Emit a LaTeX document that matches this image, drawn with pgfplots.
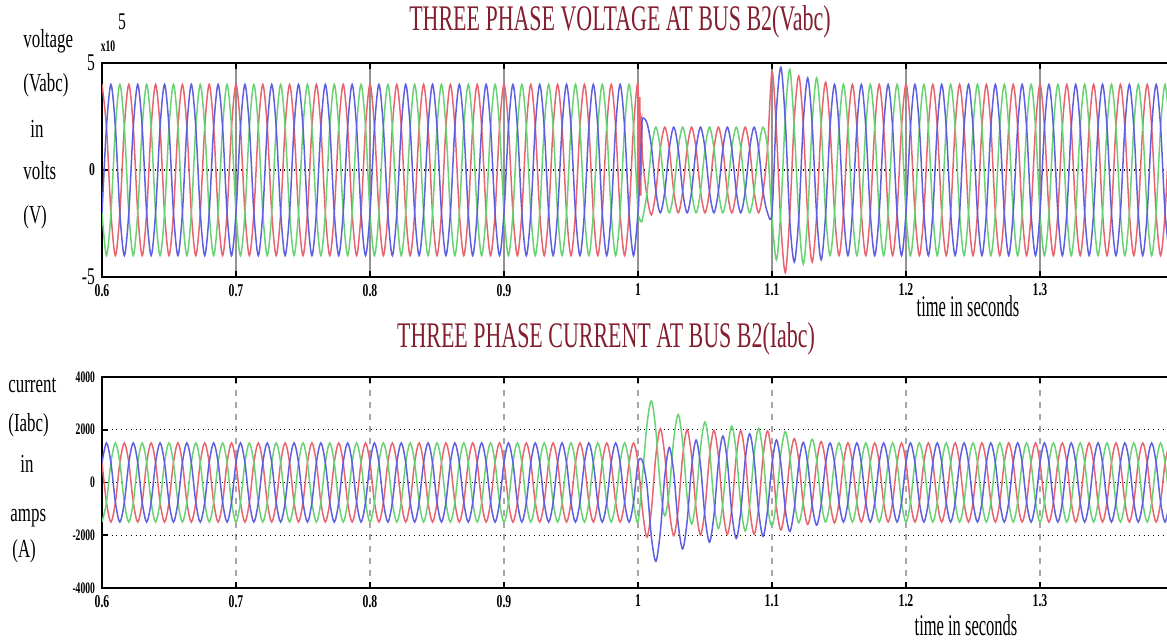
\documentclass[border=0pt]{standalone}
\usepackage{fontspec}
\setmainfont{Liberation Serif}
\usepackage{pgfplots}
\usepackage{pgfplotstable}
\pgfplotsset{compat=1.18}
\definecolor{pa}{RGB}{232,100,110}
\definecolor{pb}{RGB}{95,95,225}
\definecolor{pc}{RGB}{105,210,115}
\definecolor{ttl}{RGB}{130,30,45}
\newcommand\tk[1]{\scalebox{0.65}[1]{\fontsize{9}{9}\selectfont\bfseries #1}}
\newcommand\tks[1]{\scalebox{0.6}[1]{\fontsize{8}{8}\selectfont\bfseries #1}}
\newcommand\tkb[1]{\scalebox{0.65}[1]{\fontsize{12}{12}\selectfont #1}}
\newcommand\yl[1]{\scalebox{0.65}[1]{\fontsize{13}{13}\selectfont #1}}
% k = sample index, 300 samples per second, k=0 -> t=0.6 s
% voltage in 10^5 V : a (red), b (blue), c (green)
\pgfplotstableread[row sep=\\]{
k a b c\\
0 4 -2 -2\\ 1 2 2 -4\\ 2 -2 4 -2\\ 3 -4 2 2\\ 4 -2 -2 4\\ 5 2 -4 2\\
6 4 -2 -2\\ 7 2 2 -4\\ 8 -2 4 -2\\ 9 -4 2 2\\ 10 -2 -2 4\\ 11 2 -4 2\\
12 4 -2 -2\\ 13 2 2 -4\\ 14 -2 4 -2\\ 15 -4 2 2\\ 16 -2 -2 4\\ 17 2 -4 2\\
18 4 -2 -2\\ 19 2 2 -4\\ 20 -2 4 -2\\ 21 -4 2 2\\ 22 -2 -2 4\\ 23 2 -4 2\\
24 4 -2 -2\\ 25 2 2 -4\\ 26 -2 4 -2\\ 27 -4 2 2\\ 28 -2 -2 4\\ 29 2 -4 2\\
30 4 -2 -2\\ 31 2 2 -4\\ 32 -2 4 -2\\ 33 -4 2 2\\ 34 -2 -2 4\\ 35 2 -4 2\\
36 4 -2 -2\\ 37 2 2 -4\\ 38 -2 4 -2\\ 39 -4 2 2\\ 40 -2 -2 4\\ 41 2 -4 2\\
42 4 -2 -2\\ 43 2 2 -4\\ 44 -2 4 -2\\ 45 -4 2 2\\ 46 -2 -2 4\\ 47 2 -4 2\\
48 4 -2 -2\\ 49 2 2 -4\\ 50 -2 4 -2\\ 51 -4 2 2\\ 52 -2 -2 4\\ 53 2 -4 2\\
54 4 -2 -2\\ 55 2 2 -4\\ 56 -2 4 -2\\ 57 -4 2 2\\ 58 -2 -2 4\\ 59 2 -4 2\\
60 4 -2 -2\\ 61 2 2 -4\\ 62 -2 4 -2\\ 63 -4 2 2\\ 64 -2 -2 4\\ 65 2 -4 2\\
66 4 -2 -2\\ 67 2 2 -4\\ 68 -2 4 -2\\ 69 -4 2 2\\ 70 -2 -2 4\\ 71 2 -4 2\\
72 4 -2 -2\\ 73 2 2 -4\\ 74 -2 4 -2\\ 75 -4 2 2\\ 76 -2 -2 4\\ 77 2 -4 2\\
78 4 -2 -2\\ 79 2 2 -4\\ 80 -2 4 -2\\ 81 -4 2 2\\ 82 -2 -2 4\\ 83 2 -4 2\\
84 4 -2 -2\\ 85 2 2 -4\\ 86 -2 4 -2\\ 87 -4 2 2\\ 88 -2 -2 4\\ 89 2 -4 2\\
90 4 -2 -2\\ 91 2 2 -4\\ 92 -2 4 -2\\ 93 -4 2 2\\ 94 -2 -2 4\\ 95 2 -4 2\\
96 4 -2 -2\\ 97 2 2 -4\\ 98 -2 4 -2\\ 99 -4 2 2\\ 100 -2 -2 4\\ 101 2 -4 2\\
102 4 -2 -2\\ 103 2 2 -4\\ 104 -2 4 -2\\ 105 -4 2 2\\ 106 -2 -2 4\\ 107 2 -4 2\\
108 4 -2 -2\\ 109 2 2 -4\\ 110 -2 4 -2\\ 111 -4 2 2\\ 112 -2 -2 4\\ 113 2 -4 2\\
114 4 -2 -2\\ 115 2 2 -4\\ 116 -2 4 -2\\ 117 -4 2 2\\ 118 -2 -2 4\\ 119 2 -4 2\\
120 4 -2 -2\\ 120.2 -0.8 -1.3 -2.2\\ 120.4 3.4 -0.4 -2.3\\ 120.6 -1.2 0.6 -2.4\\ 120.8 2.4 1.6 -2.4\\
121 0.6 2.4 -2.3\\ 122 -1.2 2.2 -1.1\\ 123 -2.1 1.1 1\\ 124 -1 -1 2\\ 125 1 -2 1\\
126 2 -1 -1\\ 127 1 1 -2\\ 128 -1 2 -1\\ 129 -2 1 1\\ 130 -1 -1 2\\ 131 1 -2 1\\
132 2 -1 -1\\ 133 1 1 -2\\ 134 -1 2 -1\\ 135 -2 1 1\\ 136 -1 -1 2\\ 137 1 -2 1\\
138 2 -1 -1\\ 139 1 1 -2\\ 140 -1 2 -1\\ 141 -2 1 1\\ 142 -1 -1 2\\ 143 1 -2 1\\
144 2 -1 -1\\ 145 1 1 -2\\ 146 -1 2 -1\\ 147 -2 1 1\\ 148 -1 -1 2\\ 149 1 -2 1\\
150 4.6 -2 -2.2\\ 151 1.8 2.8 -4.2\\ 152 -2.6 4.8 -1.8\\ 153 -4.8 2.2 2.6\\ 154 -2 -2.4 4.7\\ 155 2.4 -4.3 1.9\\
156 4.4 -2.2 -2.2\\ 157 2.1 2.2 -4.4\\ 158 -2.2 4.3 -2.1\\ 159 -4.3 2.1 2.2\\ 160 -2.1 -2.1 4.3\\ 161 2.1 -4.2 2.1\\
162 4.1 -2.1 -2\\ 163 2 2 -4\\ 164 -2 4 -2\\ 165 -4 2 2\\ 166 -2 -2 4\\ 167 2 -4 2\\
168 4 -2 -2\\ 169 2 2 -4\\ 170 -2 4 -2\\ 171 -4 2 2\\ 172 -2 -2 4\\ 173 2 -4 2\\
174 4 -2 -2\\ 175 2 2 -4\\ 176 -2 4 -2\\ 177 -4 2 2\\ 178 -2 -2 4\\ 179 2 -4 2\\
180 4 -2 -2\\ 181 2 2 -4\\ 182 -2 4 -2\\ 183 -4 2 2\\ 184 -2 -2 4\\ 185 2 -4 2\\
186 4 -2 -2\\ 187 2 2 -4\\ 188 -2 4 -2\\ 189 -4 2 2\\ 190 -2 -2 4\\ 191 2 -4 2\\
192 4 -2 -2\\ 193 2 2 -4\\ 194 -2 4 -2\\ 195 -4 2 2\\ 196 -2 -2 4\\ 197 2 -4 2\\
198 4 -2 -2\\ 199 2 2 -4\\ 200 -2 4 -2\\ 201 -4 2 2\\ 202 -2 -2 4\\ 203 2 -4 2\\
204 4 -2 -2\\ 205 2 2 -4\\ 206 -2 4 -2\\ 207 -4 2 2\\ 208 -2 -2 4\\ 209 2 -4 2\\
210 4 -2 -2\\ 211 2 2 -4\\ 212 -2 4 -2\\ 213 -4 2 2\\ 214 -2 -2 4\\ 215 2 -4 2\\
216 4 -2 -2\\ 217 2 2 -4\\ 218 -2 4 -2\\ 219 -4 2 2\\ 220 -2 -2 4\\ 221 2 -4 2\\
222 4 -2 -2\\ 223 2 2 -4\\ 224 -2 4 -2\\ 225 -4 2 2\\ 226 -2 -2 4\\ 227 2 -4 2\\
228 4 -2 -2\\ 229 2 2 -4\\ 230 -2 4 -2\\ 231 -4 2 2\\ 232 -2 -2 4\\ 233 2 -4 2\\
234 4 -2 -2\\ 235 2 2 -4\\ 236 -2 4 -2\\ 237 -4 2 2\\ 238 -2 -2 4\\ 239 2 -4 2\\
}\vtab
% current in A : a (red), b (blue), c (green)
\pgfplotstableread[row sep=\\]{
k a b c\\
0 750 750 -1500\\ 1 -750 1500 -750\\ 2 -1500 750 750\\ 3 -750 -750 1500\\ 4 750 -1500 750\\ 5 1500 -750 -750\\
6 750 750 -1500\\ 7 -750 1500 -750\\ 8 -1500 750 750\\ 9 -750 -750 1500\\ 10 750 -1500 750\\ 11 1500 -750 -750\\
12 750 750 -1500\\ 13 -750 1500 -750\\ 14 -1500 750 750\\ 15 -750 -750 1500\\ 16 750 -1500 750\\ 17 1500 -750 -750\\
18 750 750 -1500\\ 19 -750 1500 -750\\ 20 -1500 750 750\\ 21 -750 -750 1500\\ 22 750 -1500 750\\ 23 1500 -750 -750\\
24 750 750 -1500\\ 25 -750 1500 -750\\ 26 -1500 750 750\\ 27 -750 -750 1500\\ 28 750 -1500 750\\ 29 1500 -750 -750\\
30 750 750 -1500\\ 31 -750 1500 -750\\ 32 -1500 750 750\\ 33 -750 -750 1500\\ 34 750 -1500 750\\ 35 1500 -750 -750\\
36 750 750 -1500\\ 37 -750 1500 -750\\ 38 -1500 750 750\\ 39 -750 -750 1500\\ 40 750 -1500 750\\ 41 1500 -750 -750\\
42 750 750 -1500\\ 43 -750 1500 -750\\ 44 -1500 750 750\\ 45 -750 -750 1500\\ 46 750 -1500 750\\ 47 1500 -750 -750\\
48 750 750 -1500\\ 49 -750 1500 -750\\ 50 -1500 750 750\\ 51 -750 -750 1500\\ 52 750 -1500 750\\ 53 1500 -750 -750\\
54 750 750 -1500\\ 55 -750 1500 -750\\ 56 -1500 750 750\\ 57 -750 -750 1500\\ 58 750 -1500 750\\ 59 1500 -750 -750\\
60 750 750 -1500\\ 61 -750 1500 -750\\ 62 -1500 750 750\\ 63 -750 -750 1500\\ 64 750 -1500 750\\ 65 1500 -750 -750\\
66 750 750 -1500\\ 67 -750 1500 -750\\ 68 -1500 750 750\\ 69 -750 -750 1500\\ 70 750 -1500 750\\ 71 1500 -750 -750\\
72 750 750 -1500\\ 73 -750 1500 -750\\ 74 -1500 750 750\\ 75 -750 -750 1500\\ 76 750 -1500 750\\ 77 1500 -750 -750\\
78 750 750 -1500\\ 79 -750 1500 -750\\ 80 -1500 750 750\\ 81 -750 -750 1500\\ 82 750 -1500 750\\ 83 1500 -750 -750\\
84 750 750 -1500\\ 85 -750 1500 -750\\ 86 -1500 750 750\\ 87 -750 -750 1500\\ 88 750 -1500 750\\ 89 1500 -750 -750\\
90 750 750 -1500\\ 91 -750 1500 -750\\ 92 -1500 750 750\\ 93 -750 -750 1500\\ 94 750 -1500 750\\ 95 1500 -750 -750\\
96 750 750 -1500\\ 97 -750 1500 -750\\ 98 -1500 750 750\\ 99 -750 -750 1500\\ 100 750 -1500 750\\ 101 1500 -750 -750\\
102 750 750 -1500\\ 103 -750 1500 -750\\ 104 -1500 750 750\\ 105 -750 -750 1500\\ 106 750 -1500 750\\ 107 1500 -750 -750\\
108 750 750 -1500\\ 109 -750 1500 -750\\ 110 -1500 750 750\\ 111 -750 -750 1500\\ 112 750 -1500 750\\ 113 1500 -750 -750\\
114 750 750 -1500\\ 115 -750 1500 -750\\ 116 -1500 750 750\\ 117 -750 -750 1500\\ 118 750 -1500 750\\ 119 1500 -750 -750\\
120 750 750 -1500\\ 121 -1043 819 224\\ 122 -2073 -110 2184\\ 123 -1031 -2068 3098\\ 124 1026 -2989 1964\\ 125 2041 -1871 -171\\
126 1016 247 -1263\\ 127 -1013 1329 -317\\ 128 -2017 380 1638\\ 129 -1006 -1576 2581\\ 130 1003 -2520 1518\\ 131 2000 -1466 -534\\
132 998 577 -1574\\ 133 -996 1609 -614\\ 134 -1987 648 1340\\ 135 -992 -1304 2295\\ 136 990 -2263 1273\\ 137 1977 -1245 -733\\
138 988 757 -1744\\ 139 -986 1762 -776\\ 140 -1970 796 1174\\ 141 -984 -1155 2139\\ 142 984 -2122 1139\\ 143 1965 -1123 -843\\
144 982 855 -1837\\ 145 -981 1847 -866\\ 146 -1961 877 1085\\ 147 -980 -1074 2054\\ 148 980 -2044 1065\\ 149 1958 -1056 -902\\
150 975 675 -1650\\ 151 -935 1615 -681\\ 152 -1802 686 1116\\ 153 -874 -1056 1929\\ 154 851 -1856 1005\\ 155 1666 -963 -703\\
156 818 708 -1525\\ 157 -806 1518 -713\\ 158 -1591 717 875\\ 159 -787 -854 1641\\ 160 781 -1618 838\\ 161 1550 -823 -727\\
162 771 730 -1500\\ 163 -767 1498 -732\\ 164 -1527 735 793\\ 165 -750 -750 1500\\ 166 750 -1500 750\\ 167 1500 -750 -750\\
168 750 750 -1500\\ 169 -750 1500 -750\\ 170 -1500 750 750\\ 171 -750 -750 1500\\ 172 750 -1500 750\\ 173 1500 -750 -750\\
174 750 750 -1500\\ 175 -750 1500 -750\\ 176 -1500 750 750\\ 177 -750 -750 1500\\ 178 750 -1500 750\\ 179 1500 -750 -750\\
180 750 750 -1500\\ 181 -750 1500 -750\\ 182 -1500 750 750\\ 183 -750 -750 1500\\ 184 750 -1500 750\\ 185 1500 -750 -750\\
186 750 750 -1500\\ 187 -750 1500 -750\\ 188 -1500 750 750\\ 189 -750 -750 1500\\ 190 750 -1500 750\\ 191 1500 -750 -750\\
192 750 750 -1500\\ 193 -750 1500 -750\\ 194 -1500 750 750\\ 195 -750 -750 1500\\ 196 750 -1500 750\\ 197 1500 -750 -750\\
198 750 750 -1500\\ 199 -750 1500 -750\\ 200 -1500 750 750\\ 201 -750 -750 1500\\ 202 750 -1500 750\\ 203 1500 -750 -750\\
204 750 750 -1500\\ 205 -750 1500 -750\\ 206 -1500 750 750\\ 207 -750 -750 1500\\ 208 750 -1500 750\\ 209 1500 -750 -750\\
210 750 750 -1500\\ 211 -750 1500 -750\\ 212 -1500 750 750\\ 213 -750 -750 1500\\ 214 750 -1500 750\\ 215 1500 -750 -750\\
216 750 750 -1500\\ 217 -750 1500 -750\\ 218 -1500 750 750\\ 219 -750 -750 1500\\ 220 750 -1500 750\\ 221 1500 -750 -750\\
222 750 750 -1500\\ 223 -750 1500 -750\\ 224 -1500 750 750\\ 225 -750 -750 1500\\ 226 750 -1500 750\\ 227 1500 -750 -750\\
228 750 750 -1500\\ 229 -750 1500 -750\\ 230 -1500 750 750\\ 231 -750 -750 1500\\ 232 750 -1500 750\\ 233 1500 -750 -750\\
234 750 750 -1500\\ 235 -750 1500 -750\\ 236 -1500 750 750\\ 237 -750 -750 1500\\ 238 750 -1500 750\\ 239 1500 -750 -750\\
}\itab
\pgfplotsset{wave/.style={
  scale only axis, width=536pt, anchor=south west,
  xmin=0, xmax=240, xtick={0,30,...,210},
  xticklabels={\tk{0.6},\tk{0.7},\tk{0.8},\tk{0.9},\tk{1},\tk{1.1},\tk{1.2},\tk{1.3}},
  axis line style={line width=1.2pt},
  xmajorgrids, ymajorgrids,
  major tick length=3pt, tick style={black, line width=0.8pt},
  every axis plot/.append style={line width=0.75pt, smooth, no markers},
}}
\begin{document}
\begin{tikzpicture}
\begin{axis}[wave, at={(51pt,182.5pt)}, height=107pt,
  ymin=-5, ymax=5, ytick={-5,0,5},
  yticklabels={\tkb{-5},\tk{0},\tkb{5}},
  x grid style={gray!85, line width=0.7pt},
  y grid style={black, dotted, line width=0.6pt}]
\addplot[pa] table[x=k,y=a]{\vtab};
\addplot[pc] table[x=k,y=c]{\vtab};
\addplot[pb] table[x=k,y=b]{\vtab};
\end{axis}
\begin{axis}[wave, at={(51pt,27pt)}, height=105.5pt,
  ymin=-4000, ymax=4000, ytick={-4000,-2000,0,2000,4000},
  yticklabels={\tks{-4000},\tks{-2000},\tks{0},\tks{2000},\tks{4000}},
  x grid style={gray!70, dashed, line width=0.7pt},
  y grid style={black, dotted, line width=0.6pt}]
\addplot[pa] table[x=k,y=a]{\itab};
\addplot[pc] table[x=k,y=c]{\itab};
\addplot[pb] table[x=k,y=b]{\itab};
\end{axis}
% titles
\node[text=ttl] at (310pt,310pt) {\scalebox{0.61}[1]{\fontsize{18}{18}\selectfont THREE PHASE VOLTAGE AT BUS B2(Vabc)}};
\node[text=ttl] at (303pt,151.5pt) {\scalebox{0.61}[1]{\fontsize{18}{18}\selectfont THREE PHASE CURRENT AT BUS B2(Iabc)}};
% x labels
\node at (484pt,168pt) {\scalebox{0.55}[1]{\fontsize{15}{15}\selectfont time in seconds}};
\node at (483pt,8.5pt) {\scalebox{0.55}[1]{\fontsize{15}{15}\selectfont time in seconds}};
% exponent
\node at (54pt,298pt) {\tks{x10}};
\node at (61pt,310pt) {\tkb{5}};
% y labels (top)
\node[anchor=base west, inner sep=0pt] at (11.5pt,297pt) {\yl{voltage}};
\node[anchor=base west, inner sep=0pt] at (11.5pt,275pt) {\yl{(Vabc)}};
\node[anchor=base west, inner sep=0pt] at (15pt,252pt) {\yl{in}};
\node[anchor=base west, inner sep=0pt] at (11.5pt,231pt) {\yl{volts}};
\node[anchor=base west, inner sep=0pt] at (11.5pt,209pt) {\yl{(V)}};
% y labels (bottom)
\node[anchor=base west, inner sep=0pt] at (4pt,124.5pt) {\yl{current}};
\node[anchor=base west, inner sep=0pt] at (4pt,105pt) {\yl{(Iabc)}};
\node[anchor=base west, inner sep=0pt] at (10pt,84.5pt) {\yl{in}};
\node[anchor=base west, inner sep=0pt] at (5pt,60pt) {\yl{amps}};
\node[anchor=base west, inner sep=0pt] at (6pt,42pt) {\yl{(A)}};
\pgfresetboundingbox
\path[use as bounding box] (0,0) rectangle (583.5pt,321pt);
\end{tikzpicture}
\end{document}
